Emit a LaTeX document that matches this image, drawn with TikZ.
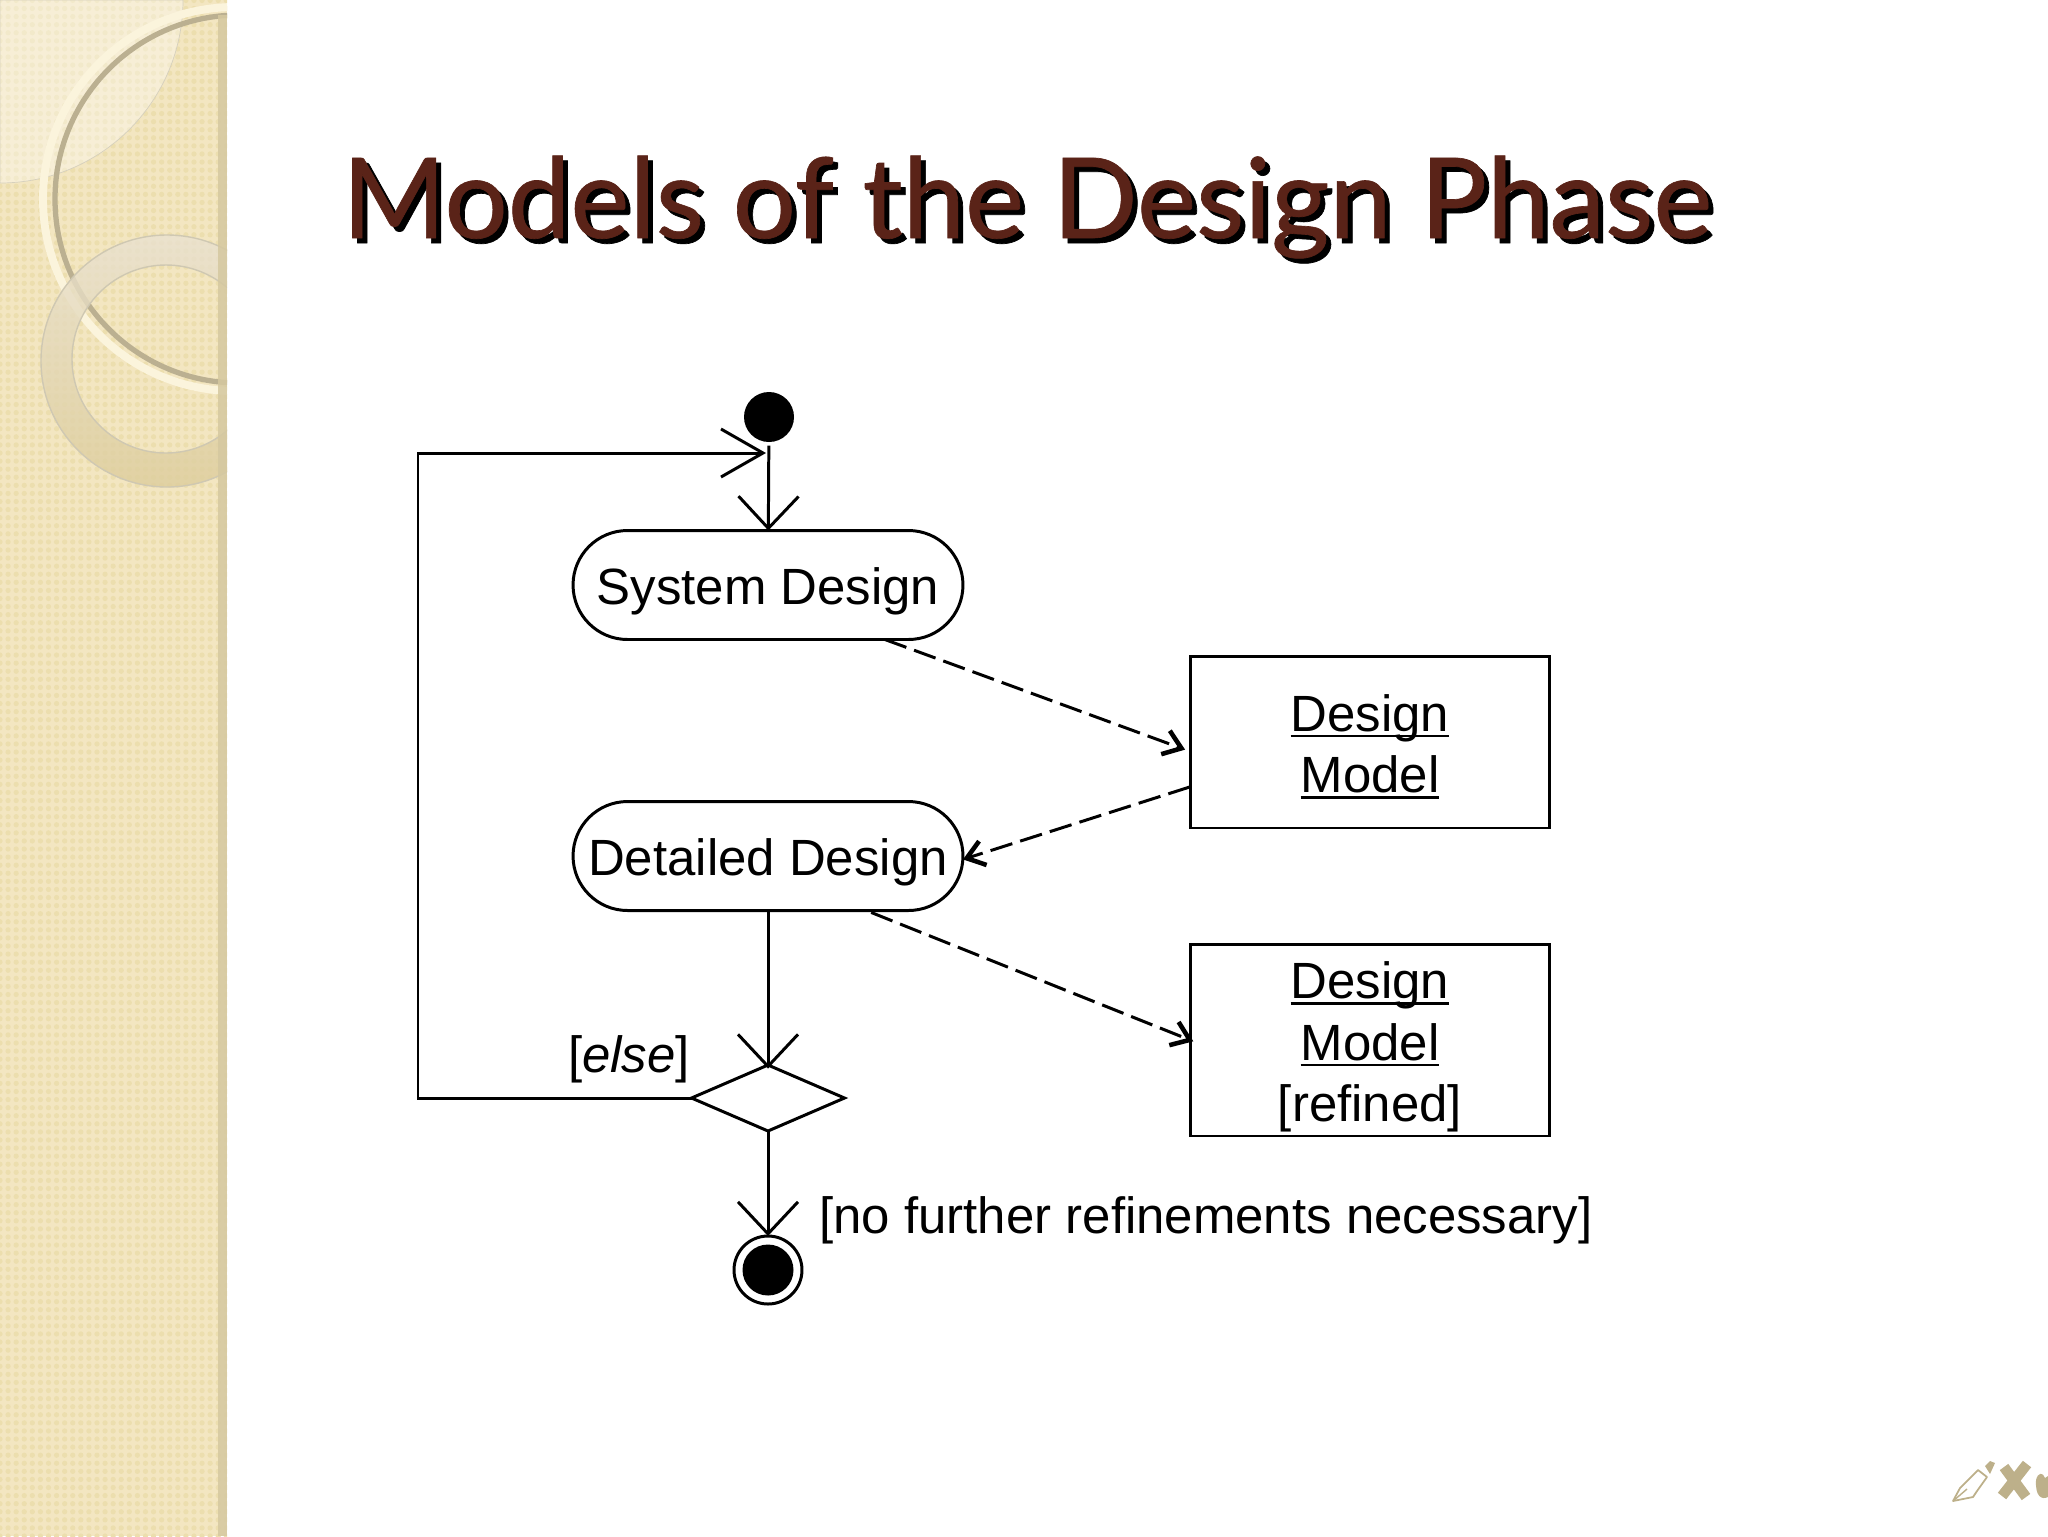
\documentclass[tikz,border=0pt]{standalone}
\usepackage{pgf}
\usepackage{tikz}
\usepackage{fontspec}
\setmainfont{Liberation Sans}
\newfontfamily\titlefont[FakeBold=0.6]{Lato}
\usetikzlibrary{arrows.meta,shapes.geometric,patterns.meta}
\definecolor{stripbase}{HTML}{F3E6C1}
\definecolor{stripdot}{HTML}{ECDEAE}
\definecolor{stripedge}{HTML}{D5C8A0}
\definecolor{ringcream}{HTML}{FBF4DC}
\definecolor{ringdark}{HTML}{BBB091}
\definecolor{ringtop}{HTML}{E9E1D0}
\definecolor{ringlow}{HTML}{DDCD9C}
\definecolor{titlered}{HTML}{5A2318}
\definecolor{logotan}{HTML}{BDB08A}
\newcommand{\ulword}[1]{\leavevmode\setbox0\hbox{#1}\rlap{\rule[-3.4pt]{\wd0}{1.3pt}}\box0}
\tikzset{
  diagramtext/.style={font=\fontsize{29}{35.1}\selectfont,align=center,inner sep=0pt},
  activity/.style={draw,line width=1.7pt,rounded corners=1.09cm,minimum width=7.8cm,minimum height=2.18cm,inner sep=0pt,outer sep=0pt,font=\fontsize{29}{35.1}\selectfont,text height=22.6pt,text depth=0pt},
  artifact/.style={draw,line width=1.7pt,minimum width=7.2cm,inner sep=0pt,outer sep=0pt,diagramtext},
  flowline/.style={line width=1.7pt,-{Straight Barb[length=6.4mm,width=12mm]}},
  objectline/.style={line width=1.7pt,dash pattern=on 13pt off 4.7pt,-{Straight Barb[length=3.4mm,width=5mm,line width=2.6pt]}},
  titletext/.style={font=\titlefont\fontsize{63.6}{70}\selectfont,inner sep=0pt,anchor=base west}
}
\begin{document}
\begin{tikzpicture}[x=0.02cm,y=-0.02cm]
\useasboundingbox (0,0) rectangle (2048,1536);

\begin{scope}
\clip (0,0) rectangle (227,1536);
\fill[stripbase] (0,0) rectangle (227,1536);
\fill[pattern={Dots[distance=4.6pt,radius=1.5pt]},pattern color=stripdot] (0,0) rectangle (227,1536);
\filldraw[fill=white,fill opacity=.35,draw=ringdark!60,line width=.4pt] (0,0) -- (183,0) arc (0:90:183) -- cycle;
\draw[ringcream,line width=4.5pt] (235,199) circle [radius=192];
\draw[ringdark,line width=3pt] (239,199) circle [radius=184];
\shade[even odd rule,top color=ringtop,bottom color=ringlow,opacity=.8] (167,361) circle [radius=126] (166,359) circle [radius=94];
\draw[ringdark!70,line width=.8pt] (167,361) circle [radius=126];
\draw[ringdark!70,line width=.8pt] (166,359) circle [radius=94];
\fill[stripedge,opacity=.85] (218,15) rectangle (227,1536);
\end{scope}

\node[titletext,black] (titleshade) at (347,243) {Models of the Design Phase};
\node[titletext,titlered] (title) at (342,238) {Models of the Design Phase};

\node[circle,fill=black,minimum size=1cm,inner sep=0pt,outer sep=0pt] (start) at (769,417) {};
\node[activity] (sysdesign) at (768,585) {System Design};
\node[activity] (detdesign) at (768,856) {Detailed Design};
\node[artifact,minimum height=3.44cm] (model) at (1370,742) {\rule{0pt}{26pt}\ulword{Design}\\\ulword{Model}};
\node[artifact,minimum height=3.84cm] (refined) at (1370,1040) {\rule{0pt}{29pt}\ulword{Design}\\\ulword{Model}\\{}[refined]};
\node[draw,diamond,aspect=2.28,line width=1.7pt,minimum width=3.06cm,minimum height=1.32cm,inner sep=0pt,outer sep=0pt] (decision) at (768,1098) {};
\node[circle,draw,line width=1.7pt,minimum size=1.36cm,inner sep=0pt,outer sep=0pt] (finish) at (768,1270) {};
\fill[black] (finish.center) circle [radius=25.5];
\node[diagramtext] (elselabel) at (629,1059) {[\textit{else}]};
\node[diagramtext,anchor=west] (donelabel) at (819,1220) {[no further refinements necessary]};

\draw[flowline,shorten <=2pt] (start) -- (sysdesign);
\draw[flowline,shorten <=1pt,shorten >=-2pt] (detdesign) -- (decision);
\draw[flowline] (decision) -- (finish);
\coordinate (merge) at (766,453);
\draw[line width=1.7pt,-{Straight Barb[length=8.4mm,width=9.6mm]}] (decision.west) -- (418,1098) -- (418,453) -- (merge);

\draw[objectline,shorten >=3pt] (sysdesign.-25.3) -- (model.183.8);
\draw[objectline] (model.194.1) -- (detdesign.-1.75);
\draw[objectline,shorten <=3pt,shorten >=-2pt] (detdesign.-29.1) -- (refined.180);

\draw[logotan,line width=1pt,line join=round,fill=white] (1953,1501) -- (1960,1488) -- (1978,1470) -- (1987,1477) -- (1977,1491) -- (1973,1497) -- cycle;
\draw[logotan,line width=.8pt] (1953,1501) -- (1967,1489);
\fill[logotan] (1985,1466) -- (1990,1461) -- (1995,1463) -- (1990,1474) -- cycle;
\draw[logotan,line width=6pt] (2004,1467) -- (2026,1497) (2027,1464) -- (2002,1496);
\fill[logotan] (2036,1480) .. controls (2038,1472) and (2043,1472) .. (2045,1478) -- (2048,1476) -- (2048,1497) .. controls (2042,1500) and (2035,1497) .. (2036,1480);
\end{tikzpicture}
\end{document}
